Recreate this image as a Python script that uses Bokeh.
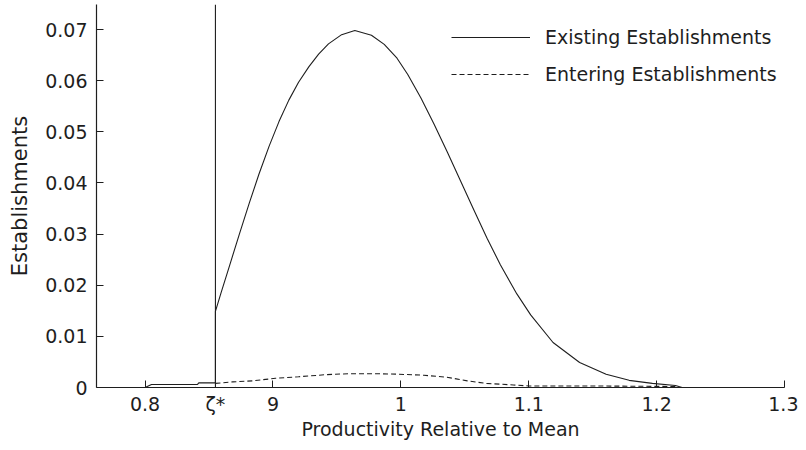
from bokeh.plotting import figure
from bokeh.models import Range1d, FixedTicker, Legend, LegendItem, Span
from bokeh.embed import file_html
from bokeh.resources import INLINE

# ---- data ----
zeta_star = 0.855

existing_x = [0.762, 0.800, 0.805, 0.841, 0.842, 0.855, 0.855, 0.8595, 0.866, 0.8736, 0.8814,
              0.889, 0.897, 0.9047, 0.9124, 0.920, 0.928, 0.9357, 0.9434, 0.9537, 0.964,
              0.977, 0.987, 0.997, 1.0054, 1.0157, 1.026, 1.0364, 1.0467, 1.0571, 1.0674,
              1.0778, 1.0907, 1.1015, 1.119, 1.1398, 1.1605, 1.1785, 1.1967, 1.2147, 1.22, 1.30]
existing_y = [0.0, 0.0, 0.0006, 0.0006, 0.0009, 0.0009, 0.0149, 0.0186, 0.0238, 0.0299, 0.0360,
              0.0417, 0.0472, 0.0520, 0.0562, 0.0597, 0.0627, 0.0652, 0.0672, 0.0690, 0.0698,
              0.0689, 0.0671, 0.0644, 0.0612, 0.0566, 0.0515, 0.0460, 0.0404, 0.0347, 0.0292,
              0.0240, 0.0183, 0.0142, 0.0088, 0.0049, 0.0026, 0.0014, 0.0008, 0.0004, 0.0, 0.0]

entering_x = [0.855, 0.8685, 0.884, 0.902, 0.920, 0.941, 0.959, 0.980, 0.998, 1.018, 1.036,
              1.052, 1.067, 1.088, 1.100, 1.150, 1.215]
entering_y = [0.0008, 0.0011, 0.0013, 0.0018, 0.0021, 0.0025, 0.0027, 0.0027, 0.0026, 0.0024,
              0.0020, 0.0013, 0.0008, 0.0005, 0.0003, 0.0003, 0.0002]

x_ticks = [0.8, zeta_star, 0.9, 1.0, 1.1, 1.2, 1.3]
x_tick_labels = ["0.8", "\u03b6*", "9", "1", "1.1", "1.2", "1.3"]
y_ticks = [0.0, 0.01, 0.02, 0.03, 0.04, 0.05, 0.06, 0.07]
y_tick_labels = ["0", "0.01", "0.02", "0.03", "0.04", "0.05", "0.06", "0.07"]

x_label = "Productivity Relative to Mean"
y_label = "Establishments"
series_names = ["Existing Establishments", "Entering Establishments"]

# ---- figure ----
FONT = "DejaVu Sans"
INK = "#1e1e1e"

p = figure(width=798, height=442, output_backend="svg", toolbar_location=None,
           x_range=Range1d(0.762, 1.30), y_range=Range1d(0.0, 0.0749),
           min_border_left=96, min_border_right=14, min_border_top=4, min_border_bottom=55)
p.outline_line_color = None
p.background_fill_color = "white"
p.border_fill_color = "white"
p.xgrid.visible = False
p.ygrid.visible = False

r1 = p.line(existing_x, existing_y, line_color=INK, line_width=1.1)
r2 = p.line(entering_x, entering_y, line_color=INK, line_width=1.1, line_dash="5 3")

p.add_layout(Span(location=zeta_star, dimension="height", line_color=INK, line_width=1.1))

for ax in (p.xaxis[0], p.yaxis[0]):
    ax.axis_line_color = INK
    ax.axis_line_width = 1.2
    ax.major_tick_line_color = INK
    ax.major_tick_in = 7
    ax.major_tick_out = 0
    ax.minor_tick_line_color = None
    ax.major_label_text_font = FONT
    ax.major_label_text_font_size = "19px"
    ax.major_label_text_color = INK
    ax.axis_label_text_font = FONT
    ax.axis_label_text_font_style = "normal"
    ax.axis_label_text_color = INK

p.xaxis.ticker = FixedTicker(ticks=x_ticks)
p.xaxis.major_label_overrides = {t: l for t, l in zip(x_ticks, x_tick_labels)}
p.xaxis.major_label_standoff = 5
p.xaxis.axis_label = x_label
p.xaxis.axis_label_text_font_size = "19px"
p.xaxis.axis_label_standoff = 0

p.yaxis.ticker = FixedTicker(ticks=y_ticks)
p.yaxis.major_label_overrides = {t: l for t, l in zip(y_ticks, y_tick_labels)}
p.yaxis.major_label_standoff = 9
p.yaxis.axis_label = y_label
p.yaxis.axis_label_text_font_size = "21px"
p.yaxis.axis_label_standoff = 10

legend = Legend(items=[LegendItem(label=series_names[0], renderers=[r1]),
                       LegendItem(label=series_names[1], renderers=[r2])],
                location=(355, 301), padding=0, margin=0, spacing=13,
                glyph_width=79, glyph_height=24, label_height=24, label_standoff=15,
                label_text_font=FONT, label_text_font_size="19px", label_text_color=INK,
                border_line_alpha=0, background_fill_alpha=0)
p.add_layout(legend)

open("out.html", "w").write(file_html(p, INLINE))
